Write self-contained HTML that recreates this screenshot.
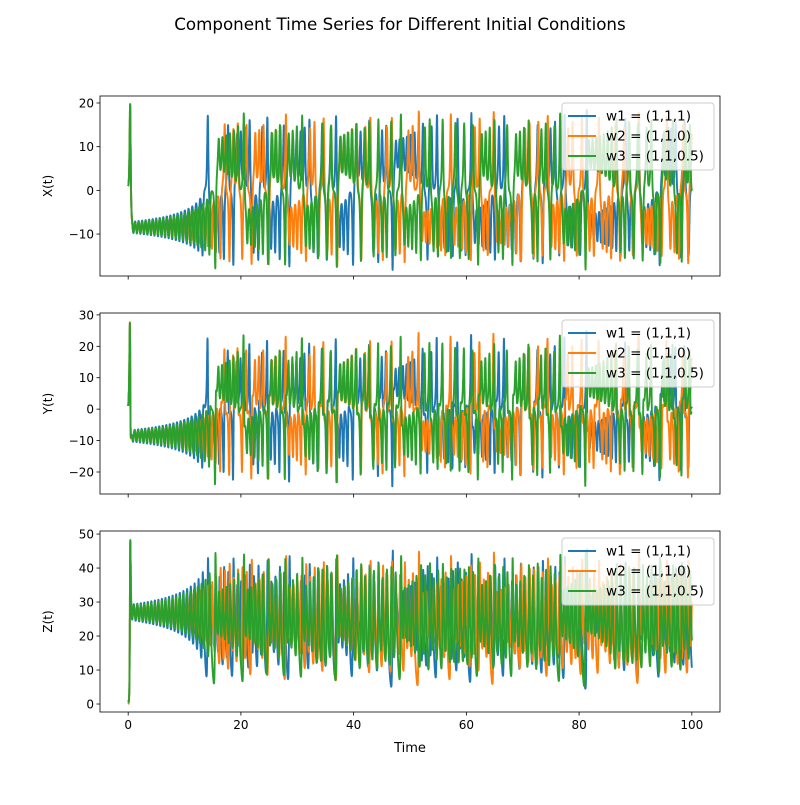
<!DOCTYPE html>
<html><head><meta charset="utf-8">
<style>
body{margin:0;background:#fff;font-family:"Liberation Sans","DejaVu Sans",sans-serif;}
svg text{font-family:"DejaVu Sans","Liberation Sans",sans-serif;}
</style></head>
<body>
<svg id="fig" width="800" height="800" xmlns="http://www.w3.org/2000/svg">
<rect width="800" height="800" fill="#fff"/>
<text x="400" y="30" font-size="16.7" text-anchor="middle">Component Time Series for Different Initial Conditions</text>
</svg>
<script>
const initialConditions = [[1,1,1],[1,1,0],[1,1,0.5]];
const seriesLabels = ["w1 = (1,1,1)","w2 = (1,1,0)","w3 = (1,1,0.5)"];
const seriesColors = ["#1f77b4","#ff7f0e","#2ca02c"];
const xTicks = [0,20,40,60,80,100];
const panelNames = ["X(t)","Y(t)","Z(t)"];
const yTicksX = [-10,0,10,20];
const yTicksY = [-20,-10,0,10,20,30];
const yTicksZ = [0,10,20,30,40,50];
const sigma = 10, rho = 28, beta = 8/3, dt = 0.01, tEnd = 100;

function lorenz(s){return [sigma*(s[1]-s[0]), s[0]*(rho-s[2])-s[1], s[0]*s[1]-beta*s[2]];}
function simulate(w0){
  const n = Math.round(tEnd/dt); let s = w0.slice(); const out=[[s[0]],[s[1]],[s[2]]];
  for(let i=0;i<n;i++){
    const k1=lorenz(s);
    const k2=lorenz(s.map((v,j)=>v+dt/2*k1[j]));
    const k3=lorenz(s.map((v,j)=>v+dt/2*k2[j]));
    const k4=lorenz(s.map((v,j)=>v+dt*k3[j]));
    s=s.map((v,j)=>v+dt/6*(k1[j]+2*k2[j]+2*k3[j]+k4[j]));
    out[0].push(s[0]);out[1].push(s[1]);out[2].push(s[2]);
  }
  return out;
}
const fmt=t=>t<0?'\u2212'+(-t):String(t);
const NS="http://www.w3.org/2000/svg";
const svg=document.getElementById('fig');
function el(tag,attrs,parent){const e=document.createElementNS(NS,tag);for(const k in attrs)e.setAttribute(k,attrs[k]);(parent||svg).appendChild(e);return e;}
const L=100,R=720;
const panels=[{top:96,bot:276,ymin:-19.6,ymax:21.6,ticks:yTicksX},{top:313,bot:494,ymin:-27.0,ymax:30.6,ticks:yTicksY},{top:531,bot:712,ymin:-2.35,ymax:50.9,ticks:yTicksZ}];
const xmin=-5,xmax=105;
const xs=v=>L+(v-xmin)/(xmax-xmin)*(R-L);
const sims=initialConditions.map(simulate);
panels.forEach((p,pi)=>{
  const ys=v=>p.bot-(v-p.ymin)/(p.ymax-p.ymin)*(p.bot-p.top);
  const g=el('g',{});
  
  
  const cid='clip'+pi;
  const cp=el('clipPath',{id:cid},g);el('rect',{x:L,y:p.top,width:R-L,height:p.bot-p.top},cp);
  sims.forEach((sim,si)=>{
    const arr=sim[pi];let d='';
    for(let i=0;i<arr.length;i++){d+=(i?'L':'M')+xs(i*dt).toFixed(1)+','+ys(arr[i]).toFixed(1);}
    const path=el('path',{d:d,fill:'none',stroke:seriesColors[si],'stroke-width':1.9,'clip-path':'url(#'+cid+')','stroke-linejoin':'round'},g);
    
    
  });
  el('rect',{x:L,y:p.top,width:R-L,height:p.bot-p.top,fill:'none',stroke:'#000','stroke-width':0.8},g);
  xTicks.forEach(t=>{
    el('line',{x1:xs(t),x2:xs(t),y1:p.bot,y2:p.bot+3.5,stroke:'#000','stroke-width':0.8},g);
    if(pi===2){const tx=el('text',{x:xs(t),y:p.bot+17,'font-size':12,'text-anchor':'middle'},g);tx.textContent=fmt(t);
      }
  });
  p.ticks.forEach(t=>{
    el('line',{x1:L-3.5,x2:L,y1:ys(t),y2:ys(t),stroke:'#000','stroke-width':0.8},g);
    const tx=el('text',{x:L-6,y:ys(t)+4.5,'font-size':12,'text-anchor':'end'},g);tx.textContent=fmt(t);
    
  });
  const yl=el('text',{x:0,y:0,'font-size':12,'text-anchor':'middle',transform:`translate(52,${(p.top+p.bot)/2}) rotate(-90)`},g);
  yl.textContent=panelNames[pi];
  
  const lg=el('g',{},g);
  
  const lx=562,ly=p.top+7;
  el('rect',{x:lx,y:ly,width:152,height:67,rx:3,fill:'#fff','fill-opacity':0.8,stroke:'#ccc','stroke-width':1},lg);
  seriesLabels.forEach((s,si)=>{
    const yy=ly+13+si*20;
    el('line',{x1:lx+6,x2:lx+34,y1:yy,y2:yy,stroke:seriesColors[si],'stroke-width':1.9},lg);
    const tx=el('text',{x:lx+44,y:yy+4.7,'font-size':13.6},lg);tx.textContent=s;
    
  });
});
const xt=el('text',{x:410,y:752,'font-size':13,'text-anchor':'middle'});xt.textContent='Time';


</script>
</body></html>
